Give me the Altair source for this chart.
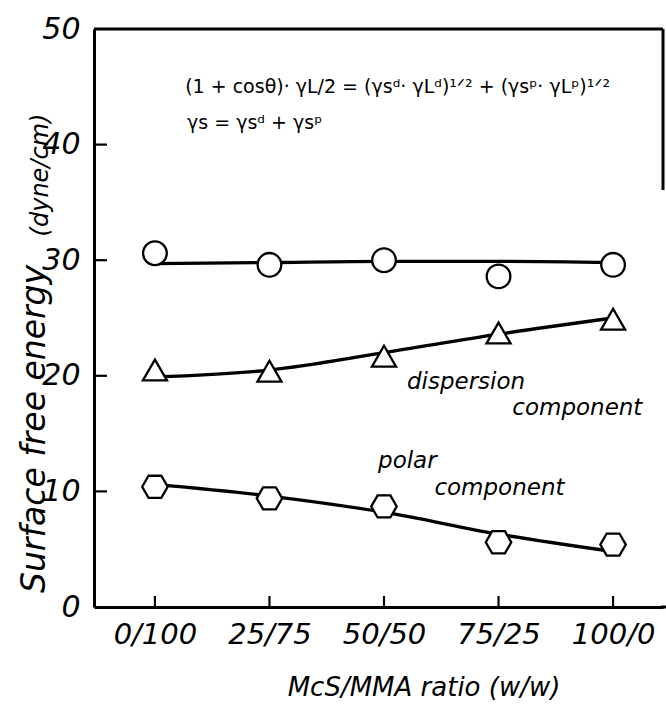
import altair as alt
import pandas as pd

# ---- values ----
ratio = [0, 25, 50, 75, 100]
ratio_labels = ["0/100", "25/75", "50/50", "75/25", "100/0"]
y_ticks = [0, 10, 20, 30, 40, 50]

total = [30.6, 29.6, 30.0, 28.6, 29.6]
dispersion = [20.5, 20.4, 21.7, 23.7, 24.9]
polar = [10.4, 9.4, 8.7, 5.6, 5.4]

total_fit = [29.7, 29.8, 29.9, 29.9, 29.8]
dispersion_fit = [19.9, 20.5, 22.0, 23.6, 25.0]
polar_fit = [10.6, 9.6, 8.2, 6.3, 4.8]

formula_lines = [
    "(1 + cosθ)· γL/2 = (γsᵈ· γLᵈ)¹ᐟ² + (γsᵖ· γLᵖ)¹ᐟ²",
    "γs = γsᵈ + γsᵖ",
]
formula_x = [6.6, 7.0]
formula_y = [45.0, 41.9]

notes = ["dispersion", "component", "polar", "component"]
notes_x = [55.0, 78.0, 48.7, 61.0]
notes_y = [19.5, 17.2, 12.6, 10.3]

x_title = "McS/MMA ratio (w/w)"
y_title = "Surface free energy"
y_unit = "(dyne/cm)"

# ---- layout ----
W, H = 569, 578
FONT = "DejaVu Sans"

xscale = alt.Scale(domain=[-13.3, 110.9], nice=False, zero=False)
yscale = alt.Scale(domain=[0, 50], nice=False, zero=False)

label_expr = " : ".join(
    f"datum.value == {v} ? '{l}'" for v, l in zip(ratio, ratio_labels)
) + " : ''"

xaxis = alt.Axis(values=ratio, labelExpr=label_expr, title=None, grid=False,
                 ticks=False, tickSize=0, domain=True, domainColor="black",
                 domainWidth=3, labelFont=FONT, labelFontSize=29,
                 labelFontStyle="italic", labelColor="black", labelPadding=13)
yaxis = alt.Axis(values=y_ticks, title=None, grid=False, ticks=False,
                 tickSize=0, domain=True, domainColor="black", domainWidth=3,
                 labelFont=FONT, labelFontSize=30, labelFontStyle="italic",
                 labelColor="black", labelPadding=14)

X = alt.X("ratio:Q", scale=xscale, axis=xaxis)
Y = alt.Y("value:Q", scale=yscale, axis=yaxis)

pts = pd.DataFrame({
    "ratio": ratio * 3,
    "value": total + dispersion + polar,
    "series": ["total"] * 5 + ["dispersion"] * 5 + ["polar"] * 5,
})
fits = pd.DataFrame({
    "ratio": ratio * 3,
    "value": total_fit + dispersion_fit + polar_fit,
    "series": ["total"] * 5 + ["dispersion"] * 5 + ["polar"] * 5,
})

lines = alt.Chart(fits).mark_line(
    color="black", strokeWidth=3.3, interpolate="monotone"
).encode(x=X, y=Y, detail="series:N")

HEX = "M-1,0L-0.5,-0.866L0.5,-0.866L1,0L0.5,0.866L-0.5,0.866Z"

def markers(name, shape, size):
    return alt.Chart(pts).transform_filter(
        alt.datum.series == name
    ).mark_point(shape=shape, size=size, filled=True, fill="white",
                 stroke="black", strokeWidth=2.3, opacity=1).encode(x=X, y=Y)

m_total = markers("total", "circle", 560)
m_disp = markers("dispersion", "triangle-up", 580)
m_polar = markers("polar", HEX, 650)

# inward ticks
ytick_df = pd.DataFrame({"value": y_ticks[1:-1]})
yticks = alt.Chart(ytick_df).mark_rule(color="black", strokeWidth=2.2).encode(
    y=Y, x=alt.value(0), x2=alt.value(13))
xtick_df = pd.DataFrame({"ratio": ratio})
xticks = alt.Chart(xtick_df).mark_rule(color="black", strokeWidth=2.2).encode(
    x=X, y=alt.value(H), y2=alt.value(H - 11))

one = pd.DataFrame({"k": [0]})
top_line = alt.Chart(one).mark_rule(color="black", strokeWidth=3).encode(
    x=alt.value(0), x2=alt.value(W), y=alt.value(0))
right_line = alt.Chart(one).mark_rule(color="black", strokeWidth=3).encode(
    x=alt.value(W), y=alt.value(0), y2=alt.value(161))
bottom_ext = alt.Chart(one).mark_rule(color="black", strokeWidth=3).encode(
    x=alt.value(W - 2), x2=alt.value(W + 3), y=alt.value(H))

formula_df = pd.DataFrame({"ratio": formula_x, "value": formula_y, "t": formula_lines})
formula = alt.Chart(formula_df).mark_text(
    font=FONT, fontSize=19, align="left", baseline="middle", color="black"
).encode(x=X, y=Y, text="t:N")

notes_df = pd.DataFrame({"ratio": notes_x, "value": notes_y, "t": notes})
note_text = alt.Chart(notes_df).mark_text(
    font=FONT, fontSize=23, fontStyle="italic", align="left",
    baseline="middle", color="black"
).encode(x=X, y=Y, text="t:N")

xt = alt.Chart(one).mark_text(
    text=x_title, font=FONT, fontSize=26, fontStyle="italic",
    align="center", baseline="middle", color="black"
).encode(x=alt.value(330), y=alt.value(659))
yt = alt.Chart(one).mark_text(
    text=y_title, font=FONT, fontSize=33, fontStyle="italic", angle=270,
    align="center", baseline="middle", color="black"
).encode(x=alt.value(-59), y=alt.value(400))
yu = alt.Chart(one).mark_text(
    text=y_unit, font=FONT, fontSize=24, fontStyle="italic", angle=270,
    align="center", baseline="middle", color="black"
).encode(x=alt.value(-53), y=alt.value(146))

chart = alt.layer(
    lines, m_total, m_disp, m_polar, yticks, xticks, top_line, right_line,
    bottom_ext, formula, note_text, xt, yt, yu
).properties(
    width=W, height=H,
    autosize=alt.AutoSizeParams(type="none"),
    padding={"left": 94, "top": 29, "right": 3, "bottom": 97},
    background="white",
).configure_view(stroke=None)

chart.save("out.html", embed_options={"renderer": "svg", "actions": False})
